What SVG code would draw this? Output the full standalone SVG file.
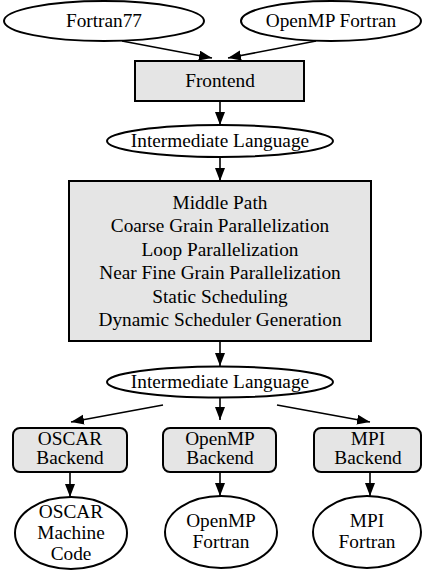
<svg xmlns="http://www.w3.org/2000/svg" width="422" height="572" viewBox="0 0 422 572">
<style>
.t{font-family:"Liberation Serif","Times New Roman",serif;font-size:19.3px;fill:#000;text-anchor:middle}
.n{fill:#fff;stroke:#000;stroke-width:2}
.b{fill:#e5e5e5;stroke:#000;stroke-width:2}
.e{fill:none;stroke:#000;stroke-width:1.6}
</style>
<defs>
<marker id="ah" markerUnits="userSpaceOnUse" markerWidth="14" markerHeight="12" refX="13" refY="5" orient="auto">
<path d="M0,0 L13,5 L0,10 Z" fill="#000"/>
</marker>
</defs>
<rect width="422" height="572" fill="#fff"/>
<g id="connectors">
<path class="e" d="M122,41 L212,58" marker-end="url(#ah)"/>
<path class="e" d="M316,41 L228,58" marker-end="url(#ah)"/>
<path class="e" d="M220,101 L220,125" marker-end="url(#ah)"/>
<path class="e" d="M220,157 L220,181" marker-end="url(#ah)"/>
<path class="e" d="M220,341 L220,366" marker-end="url(#ah)"/>
<path class="e" d="M163,405 L71,422" marker-end="url(#ah)"/>
<path class="e" d="M220,398 L220,420" marker-end="url(#ah)"/>
<path class="e" d="M277,405 L370,422" marker-end="url(#ah)"/>
<path class="e" d="M70,472 L70,497" marker-end="url(#ah)"/>
<path class="e" d="M220,472 L220,496" marker-end="url(#ah)"/>
<path class="e" d="M370,472 L370,496" marker-end="url(#ah)"/>
</g>
<g id="fortran77">
<ellipse class="n" cx="104" cy="21" rx="100" ry="20"/>
<text class="t" x="104" y="27">Fortran77</text>
</g>
<g id="openmp_fortran_in">
<ellipse class="n" cx="331" cy="21" rx="90" ry="20"/>
<text class="t" x="331" y="27">OpenMP Fortran</text>
</g>
<g id="frontend">
<rect class="b" x="135" y="61" width="169" height="40"/>
<text class="t" x="220" y="87">Frontend</text>
</g>
<g id="il1">
<ellipse class="n" cx="220" cy="141" rx="113" ry="16"/>
<text class="t" x="220" y="147">Intermediate Language</text>
</g>
<g id="middle">
<rect class="b" x="69" y="181" width="302" height="160"/>
<text class="t" x="220" y="209">Middle Path</text>
<text class="t" x="220" y="232">Coarse Grain Parallelization</text>
<text class="t" x="220" y="256">Loop Parallelization</text>
<text class="t" x="220" y="279">Near Fine Grain Parallelization</text>
<text class="t" x="220" y="303">Static Scheduling</text>
<text class="t" x="220" y="326">Dynamic Scheduler Generation</text>
</g>
<g id="il2">
<ellipse class="n" cx="220" cy="382" rx="113" ry="15.5"/>
<text class="t" x="220" y="388">Intermediate Language</text>
</g>
<g id="oscar_backend">
<rect class="b" x="13" y="428" width="114" height="44" rx="7"/>
<text class="t" x="70" y="445">OSCAR</text>
<text class="t" x="70" y="464">Backend</text>
</g>
<g id="openmp_backend">
<rect class="b" x="163" y="428" width="113" height="44" rx="7"/>
<text class="t" x="220" y="445">OpenMP</text>
<text class="t" x="220" y="464">Backend</text>
</g>
<g id="mpi_backend">
<rect class="b" x="314" y="428" width="107" height="44" rx="7"/>
<text class="t" x="368" y="445">MPI</text>
<text class="t" x="368" y="464">Backend</text>
</g>
<g id="oscar_code">
<ellipse class="n" cx="71" cy="533" rx="56" ry="36"/>
<text class="t" x="71" y="518">OSCAR</text>
<text class="t" x="71" y="539">Machine</text>
<text class="t" x="71" y="560">Code</text>
</g>
<g id="openmp_fortran_out">
<ellipse class="n" cx="221" cy="532" rx="56" ry="36"/>
<text class="t" x="221" y="527">OpenMP</text>
<text class="t" x="221" y="548">Fortran</text>
</g>
<g id="mpi_fortran">
<ellipse class="n" cx="367" cy="532" rx="54" ry="36"/>
<text class="t" x="367" y="527">MPI</text>
<text class="t" x="367" y="548">Fortran</text>
</g>
</svg>
